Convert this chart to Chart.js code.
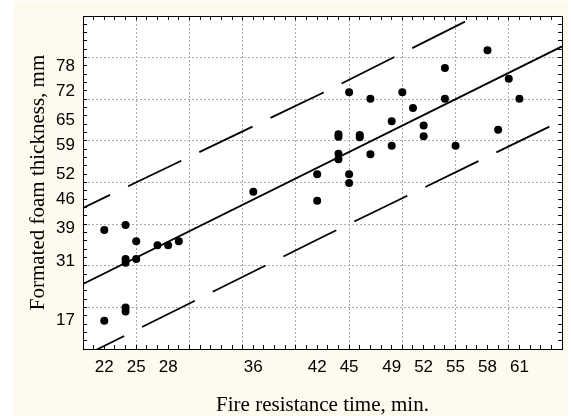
<!DOCTYPE html>
<html>
<head>
<meta charset="utf-8">
<script src="https://cdn.jsdelivr.net/npm/chart.js@4"></script>
<style>
  body { margin: 0; background: #fff; }
  #wrap { position: absolute; left: 13px; top: 1px; width: 555px; height: 415px; background: #fffaee; }
</style>
</head>
<body>
<div id="wrap"><canvas id="myChart" width="555" height="415"></canvas></div>
<script>
const timeMin = [58, 54, 60, 45, 50, 47, 54, 61, 51, 49, 52, 59, 44, 44, 46, 46, 52, 49, 55, 47,
  44, 44, 42, 45, 45, 42, 36, 22, 24, 25, 24, 24, 25, 27, 28, 29, 24, 24, 22];
const thicknessMm = [81.8, 77.5, 74.9, 71.7, 71.7, 70.1, 70.1, 70.1, 67.9, 64.7, 63.7, 62.7, 61.6, 61.0, 61.4, 60.9, 61.1, 58.8, 58.8, 56.8,
  56.9, 55.6, 52.0, 52.0, 49.9, 45.6, 47.8, 38.6, 39.8, 35.9, 31.6, 30.7, 31.6, 34.9, 34.9, 35.9, 20.0, 19.0, 16.8];

// fitted line and prediction band, read at a few x positions
const fitX = [20, 65];
const fitY = [25.6, 82.7];
const bandX = [20, 42.5, 65];
const upperY = [43.9, 71.5, 100.3];
const lowerY = [8.2, 36.9, 64.9];

const xTickLabels = [22, 25, 28, 36, 42, 45, 49, 52, 55, 58, 61];
const yTickLabels = [17, 31, 39, 46, 52, 59, 65, 72, 78];

const pts = (xs, ys) => xs.map((x, i) => ({x: x, y: ys[i]}));

const xTickValues = [];
for (let v = 20; v <= 65; v++) xTickValues.push(v);
const yTickValues = [];
for (let v = 10; v <= 90; v += 2) yTickValues.push(v);
yTickLabels.forEach(v => { if (!yTickValues.includes(v)) yTickValues.push(v); });
yTickValues.sort((a, b) => a - b);

const clear = 'rgba(0,0,0,0)';
const gridGray = '#aaaaaa';

Chart.defaults.font.family = '"Liberation Sans", Arial, sans-serif';
Chart.defaults.color = '#000';

const whiteArea = {
  id: 'whiteArea',
  beforeDraw(chart) {
    const {ctx, chartArea: a} = chart;
    ctx.save();
    ctx.fillStyle = '#fff';
    ctx.fillRect(a.left, a.top, a.right - a.left, a.bottom - a.top);
    ctx.restore();
  }
};

// fixed box sizes so the plot area lands where the original has it
function fixBox(s, w, h) {
  if (w !== null) s.width = w;
  if (h !== null) s.height = h;
  s.paddingLeft = s.paddingRight = s.paddingTop = s.paddingBottom = 0;
}

function xScale(pos, showLabels) {
  return {
    type: 'linear', position: pos, min: 20, max: 65,
    afterBuildTicks: s => { s.ticks = xTickValues.map(v => ({value: v})); },
    afterFit: s => fixBox(s, null, showLabels ? 67 : 0),
    grid: {
      drawOnChartArea: showLabels,
      color: c => (c.tick && c.tick.value % 5 === 0 && c.tick.value > 20 && c.tick.value < 65) ? gridGray : clear,
      tickColor: '#000', tickLength: -4, tickBorderDash: [], lineWidth: 1
    },
    border: {color: '#000', width: 1, dash: [2, 2]},
    ticks: {
      display: showLabels, autoSkip: false, maxRotation: 0, minRotation: 0, padding: 12,
      font: {size: 17},
      callback: v => xTickLabels.includes(v) ? String(v) : ''
    },
    title: showLabels ? {
      display: true, text: 'Fire resistance time, min.',
      font: {family: '"Liberation Serif", "Times New Roman", serif', size: 21, lineHeight: 1},
      padding: {top: 2.5, bottom: 0}
    } : {display: false}
  };
}

function yScale(pos, showLabels) {
  return {
    type: 'linear', position: pos, min: 10, max: 90,
    afterBuildTicks: s => { s.ticks = yTickValues.map(v => ({value: v})); },
    afterFit: s => fixBox(s, showLabels ? 70 : 0, null),
    grid: {
      drawOnChartArea: showLabels,
      color: c => (c.tick && c.tick.value % 10 === 0 && c.tick.value > 10 && c.tick.value < 90) ? gridGray : clear,
      tickColor: c => (c.tick && c.tick.value % 2 === 0) ? '#000' : clear,
      tickLength: -4, tickBorderDash: [], lineWidth: 1
    },
    border: {color: '#000', width: 1, dash: [2, 2]},
    ticks: {
      display: showLabels, autoSkip: false, padding: 12,
      font: {size: 17},
      callback: v => yTickLabels.includes(v) ? String(v) : ''
    },
    title: showLabels ? {
      display: true, text: 'Formated foam thickness, mm',
      font: {family: '"Liberation Serif", "Times New Roman", serif', size: 21, lineHeight: 1},
      padding: {top: 14.5, bottom: 0}
    } : {display: false}
  };
}

const ctx = document.getElementById('myChart').getContext('2d');
new Chart(ctx, {
  type: 'scatter',
  data: {
    datasets: [
      {
        data: pts(timeMin, thicknessMm),
        backgroundColor: '#000', borderColor: '#000',
        pointRadius: 4, pointBorderWidth: 0
      },
      {
        data: pts(fitX, fitY), showLine: true, pointRadius: 0,
        borderColor: '#000', borderWidth: 1.8
      },
      {
        data: pts(bandX, upperY), showLine: true, pointRadius: 0,
        borderColor: '#000', borderWidth: 1.8, borderDash: [59, 20], borderDashOffset: 29
      },
      {
        data: pts(bandX, lowerY), showLine: true, pointRadius: 0,
        borderColor: '#000', borderWidth: 1.8, borderDash: [59, 20], borderDashOffset: 13
      }
    ]
  },
  options: {
    responsive: false,
    animation: false,
    layout: {padding: {top: 15, right: 6, left: 0, bottom: 0}},
    plugins: {
      legend: {display: false},
      tooltip: {enabled: false}
    },
    scales: {
      x: xScale('bottom', true),
      x2: xScale('top', false),
      y: yScale('left', true),
      y2: yScale('right', false)
    }
  },
  plugins: [whiteArea]
});
</script>
</body>
</html>
